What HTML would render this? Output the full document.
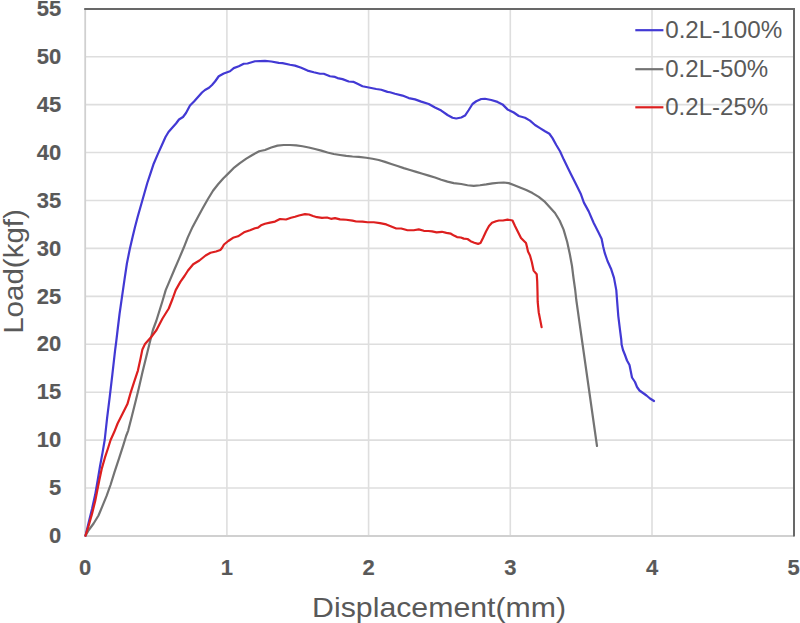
<!DOCTYPE html>
<html><head><meta charset="utf-8"><title>Load-Displacement chart</title><style>
html,body{margin:0;padding:0;background:#fff;width:800px;height:623px;overflow:hidden}
svg{display:block}
.tick{font-family:"Liberation Sans", sans-serif;font-weight:bold;font-size:22.0px;fill:#595959;stroke:#595959;stroke-width:0.15px}
.title{font-family:"Liberation Sans", sans-serif;font-size:27.9px;fill:#595959}
.leg{font-family:"Liberation Sans", sans-serif;font-size:23.7px;fill:#595959}
</style></head><body>
<svg width="800" height="623" viewBox="0 0 800 623">
<rect width="800" height="623" fill="#fff"/>
<g stroke="#dedede" stroke-width="1.6" fill="none"><line x1="85.2" y1="488.07" x2="794" y2="488.07"/><line x1="85.2" y1="440.14" x2="794" y2="440.14"/><line x1="85.2" y1="392.21" x2="794" y2="392.21"/><line x1="85.2" y1="344.28" x2="794" y2="344.28"/><line x1="85.2" y1="296.35" x2="794" y2="296.35"/><line x1="85.2" y1="248.42" x2="794" y2="248.42"/><line x1="85.2" y1="200.49" x2="794" y2="200.49"/><line x1="85.2" y1="152.56" x2="794" y2="152.56"/><line x1="85.2" y1="104.63" x2="794" y2="104.63"/><line x1="85.2" y1="56.70" x2="794" y2="56.70"/><line x1="226.90" y1="9" x2="226.90" y2="536.0"/><line x1="368.60" y1="9" x2="368.60" y2="536.0"/><line x1="510.30" y1="9" x2="510.30" y2="536.0"/><line x1="652.00" y1="9" x2="652.00" y2="536.0"/></g>
<g stroke="#d0d0d0" stroke-width="1.8" fill="none"><line x1="85.2" y1="9" x2="85.2" y2="536.0"/><line x1="85.2" y1="536.0" x2="794" y2="536.0"/></g>
<g stroke="#686868" stroke-width="2" fill="none"><line x1="84.2" y1="9.1" x2="795" y2="9.1"/><line x1="794" y1="8.1" x2="794" y2="536.4"/></g>
<g fill="none" stroke-width="2.2" stroke-linejoin="round" stroke-linecap="round">
<polyline stroke="#4239d4" points="85.50,535.80 88.80,521.90 92.00,509.10 95.20,494.60 97.70,480.20 100.10,465.70 102.50,452.90 104.70,440.00 105.90,429.00 107.10,418.20 109.70,397.10 112.40,374.10 115.00,351.20 116.30,341.00 117.60,330.00 119.60,313.50 122.10,296.20 124.60,278.80 126.90,263.50 129.80,249.00 132.70,236.50 135.00,227.00 137.70,216.70 140.90,205.50 144.10,194.30 147.30,183.00 150.50,173.40 153.70,163.70 157.80,154.10 161.80,145.30 165.50,137.00 168.50,132.00 172.00,128.00 176.00,123.50 179.00,119.50 183.00,117.00 186.00,113.00 190.00,105.50 194.00,101.50 198.00,97.00 202.00,92.50 205.00,90.00 209.00,87.80 212.00,85.00 215.00,81.50 218.75,76.25 223.75,73.50 230.00,71.25 233.75,68.10 238.75,66.25 243.75,63.75 247.50,63.50 255.00,61.25 265.00,60.90 271.25,61.50 278.75,62.90 282.50,63.10 290.00,64.75 295.00,65.60 301.25,67.75 307.50,70.60 313.75,72.25 320.00,73.75 323.75,73.75 330.00,76.25 335.00,76.90 337.50,78.10 342.50,79.10 348.75,81.50 353.75,81.90 357.50,83.75 362.50,86.25 370.00,87.75 376.25,89.00 381.25,89.75 387.50,91.90 390.00,92.25 395.00,93.75 402.50,95.60 408.75,98.10 415.00,99.40 421.25,101.60 428.75,104.00 435.00,107.50 441.25,110.60 447.50,115.00 452.50,117.75 456.25,118.50 461.25,117.50 465.00,115.60 468.75,110.00 472.50,104.00 476.25,101.25 481.25,99.00 485.00,98.75 491.25,100.00 497.50,101.90 502.50,104.40 507.50,109.40 513.75,112.50 518.75,116.00 525.00,117.75 530.00,120.60 535.00,125.00 540.00,128.10 545.00,131.25 549.40,133.75 552.50,138.10 556.25,145.00 560.00,151.25 563.80,159.60 567.90,168.00 571.10,174.50 575.90,184.10 580.70,193.70 583.90,202.60 588.70,211.40 593.60,222.70 598.40,232.30 601.60,238.70 603.20,246.70 604.80,253.20 607.50,261.00 611.00,268.70 614.00,277.90 616.30,290.10 617.10,300.80 618.30,316.10 619.80,328.30 621.30,340.00 621.60,344.50 623.00,350.00 625.00,355.00 627.00,360.50 629.50,365.00 630.50,370.00 632.00,377.50 635.00,382.00 637.00,387.00 639.50,390.50 643.00,393.00 646.50,395.50 650.00,398.50 654.00,401.00"/>
<polyline stroke="#737373" points="85.50,535.60 88.80,530.00 93.60,523.50 98.50,515.50 102.50,505.90 106.50,496.20 110.50,485.00 114.50,472.10 119.30,457.70 123.40,444.80 126.10,436.00 128.20,430.60 131.80,416.50 135.30,402.40 138.80,388.20 142.40,372.40 145.90,358.20 149.40,344.10 152.90,330.00 156.25,321.00 162.50,301.00 165.70,290.10 169.30,281.60 174.10,270.30 178.90,259.10 183.70,247.80 187.80,237.40 192.60,226.90 198.20,216.50 202.70,208.20 207.80,199.20 213.00,190.70 218.10,184.30 223.20,178.50 228.40,173.40 233.50,168.20 239.90,163.10 246.30,158.60 252.80,154.70 259.20,151.30 265.00,150.00 271.25,147.50 277.50,145.60 283.75,145.00 290.00,145.00 296.25,145.40 302.50,146.25 308.75,147.50 315.00,149.00 321.25,150.60 327.50,152.50 333.75,154.00 340.00,155.00 346.25,155.90 352.50,156.50 358.75,156.90 366.25,157.75 372.50,158.75 378.75,160.00 385.00,161.90 391.25,164.00 397.50,166.00 403.75,168.10 410.00,170.00 416.25,171.90 422.50,173.75 428.75,175.60 435.00,177.50 441.25,179.75 447.50,181.60 453.75,183.10 461.25,184.00 467.50,185.25 473.75,185.90 480.00,185.25 486.25,184.40 492.50,183.40 498.75,182.75 503.75,182.50 508.75,183.10 513.75,185.00 520.00,187.50 526.25,190.00 532.50,193.10 538.75,196.90 545.00,201.90 550.00,207.50 555.00,213.00 559.60,220.50 563.60,229.60 567.20,242.00 569.80,254.00 572.00,266.00 573.50,278.00 575.20,290.00 576.30,300.00 578.00,312.00 579.40,322.00 597.00,446.00"/>
<polyline stroke="#dd1f1f" points="85.50,535.80 88.80,525.10 92.00,513.90 95.20,501.00 97.70,488.20 99.30,480.20 101.70,468.90 104.90,457.70 108.10,448.00 110.60,440.00 114.10,432.30 117.60,423.50 122.90,412.90 127.40,404.10 130.90,391.80 134.40,381.20 137.90,370.60 140.60,358.20 142.40,349.40 145.00,344.10 151.20,337.10 156.50,330.00 162.50,318.50 168.75,308.50 172.50,299.00 175.70,290.10 180.50,281.60 184.50,276.00 188.00,270.50 193.20,264.20 199.40,260.50 205.60,255.50 210.50,252.80 216.00,251.50 220.30,250.00 222.00,248.00 224.00,244.50 228.30,241.00 233.00,237.80 238.00,236.30 244.00,232.30 250.00,230.30 255.00,228.30 258.00,227.60 261.00,225.30 265.00,223.80 270.00,222.60 275.00,221.60 280.00,219.00 286.00,219.50 291.00,217.80 295.00,216.80 299.00,215.50 305.00,214.20 309.00,214.50 313.00,216.00 317.00,217.20 322.00,217.80 327.00,217.50 331.00,218.80 335.00,218.10 340.00,219.40 346.25,219.75 352.50,220.60 356.25,221.50 362.50,221.60 367.50,222.25 373.75,222.25 380.00,223.10 386.25,224.40 391.25,226.50 396.25,228.50 401.25,228.50 407.50,230.25 413.75,230.25 418.75,229.40 423.80,230.80 428.30,231.00 432.10,231.40 436.60,232.30 441.90,231.80 446.40,232.90 450.90,233.70 454.00,235.60 457.00,237.10 460.80,237.50 463.80,238.60 467.50,239.00 470.60,241.20 474.30,242.70 478.10,243.90 480.50,243.00 483.00,238.00 486.00,231.50 489.00,226.00 492.00,222.80 496.00,221.20 499.00,220.50 503.00,220.50 507.50,219.70 510.00,220.00 512.50,220.50 515.00,226.00 518.00,232.00 521.00,238.00 523.50,240.50 526.00,243.00 527.00,247.00 528.00,251.50 530.00,255.50 531.80,262.00 533.60,270.60 536.70,274.20 537.20,281.40 537.50,291.70 537.70,301.90 538.70,312.20 540.30,320.40 541.60,327.10"/>
</g>
<g class="tick" text-anchor="end"><text x="61.3" y="543.20">0</text><text x="61.3" y="495.27">5</text><text x="61.3" y="447.34">10</text><text x="61.3" y="399.41">15</text><text x="61.3" y="351.48">20</text><text x="61.3" y="303.55">25</text><text x="61.3" y="255.62">30</text><text x="61.3" y="207.69">35</text><text x="61.3" y="159.76">40</text><text x="61.3" y="111.83">45</text><text x="61.3" y="63.90">50</text><text x="61.3" y="15.97">55</text></g>
<g class="tick" text-anchor="middle"><text x="85.20" y="574.6">0</text><text x="226.90" y="574.6">1</text><text x="368.60" y="574.6">2</text><text x="510.30" y="574.6">3</text><text x="652.00" y="574.6">4</text><text x="793.70" y="574.6">5</text></g>
<text class="title" x="439.1" y="616.5" text-anchor="middle" textLength="254" lengthAdjust="spacingAndGlyphs">Displacement(mm)</text>
<text class="title" transform="translate(22.5,271.5) rotate(-90)" text-anchor="middle" textLength="124.6" lengthAdjust="spacingAndGlyphs">Load(kgf)</text>
<g stroke-width="2.2"><line x1="635.3" y1="30.2" x2="663.4" y2="30.2" stroke="#4239d4"/><line x1="635.3" y1="69.2" x2="663.4" y2="69.2" stroke="#737373"/><line x1="635.3" y1="107.3" x2="663.4" y2="107.3" stroke="#dd1f1f"/></g>
<g class="leg"><text x="665.2" y="38.2" textLength="117" lengthAdjust="spacingAndGlyphs">0.2L-100%</text><text x="665.2" y="76.5" textLength="103" lengthAdjust="spacingAndGlyphs">0.2L-50%</text><text x="665.2" y="114.6" textLength="103" lengthAdjust="spacingAndGlyphs">0.2L-25%</text></g>
</svg>
</body></html>
